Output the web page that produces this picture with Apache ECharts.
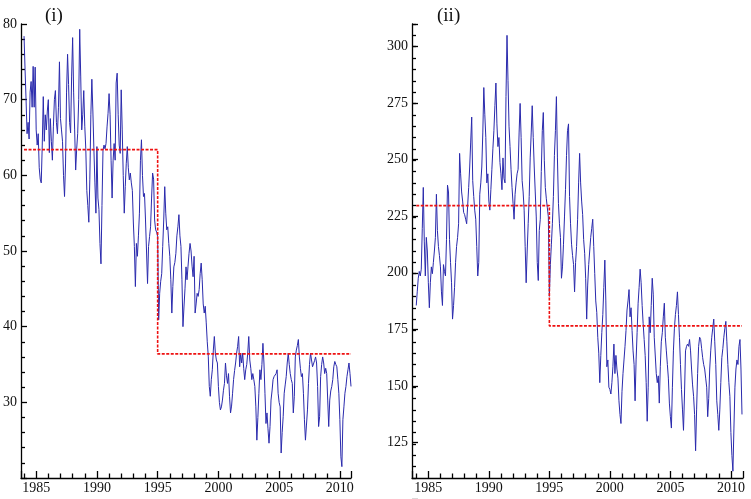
<!DOCTYPE html>
<html><head><meta charset="utf-8">
<script src="https://cdn.jsdelivr.net/npm/echarts@6/dist/echarts.min.js"></script>
<style>html,body{margin:0;padding:0;background:#fff}#c{width:751px;height:499px}</style>
</head><body><div id="c"></div>
<script>
// Monthly series, Jan 1984 - Dec 2010
const startYear = 1984;
const seriesI = [
78.4,74,70,65.5,67,64.8,71,72.4,69,74.4,
69,74.3,66,64,65.5,61,59.5,59,64,70.4,
64.5,68,66,68.5,70,63,67.5,64.5,62,66.5,
70,71.2,67,65.5,69,75,67.5,66,64.5,60,
57.2,61.5,71,76,72,67,65.6,73,78.2,71,
66,60.7,63.5,65.5,70,79.3,73,66,68,71.2,
66.5,63.5,58,56,53.8,59.5,68,72.7,68.5,63.5,
59,55,63.8,57,55.5,51,48.3,56,63.3,64,
63.5,64.2,66.4,68.2,70.8,68,62,57,62,64.2,
62,72.2,73.5,68,64,62.9,71.3,66,60,55,
58.5,61.6,63.8,61,59.4,60.3,59,58,53.7,
50.6,45.3,51,49.3,52,55,62,64.7,60,57.2,
57.6,54.1,50,45.7,50.6,51.9,53.2,57,60.3,59.5,
54.1,52.8,52.5,51.9,40.9,44.4,46,47,50.6,54.1,
58.5,55,52.8,53.2,51,49.3,46.2,41.8,45.3,47.9,
48.5,49.7,52,53.2,54.8,52,50.6,46.2,40,42.6,
45,47.9,46.2,48,49.7,51,50,48,46.6,49.3,
41.8,43,44.4,44,44.9,47,48.4,46.2,43,41.8,
42.7,40.5,38,36.1,32.1,30.8,33,34.3,36.9,38.7,
36.5,35.6,35.2,32.1,30,29,29.4,30.3,31.6,32.5,
35.2,33.5,32.5,33.8,30.8,28.6,29.5,31.2,33,
34.2,35.2,36.5,37.4,38.7,34.7,36.5,35.2,36.5,34.5,
33,34.3,35,36.5,38.7,35.6,34.5,33,33.8,33,
32.1,29.4,25,28,31.2,34.3,33,35,37.8,35.2,
31.2,27.2,28.6,26.5,24.6,26.8,30.3,31.5,33,33.4,
33.6,33.8,34.3,31.2,30,29.4,23.3,26,28.1,31.2,
32.3,33.4,35.2,36.5,35,33.8,33,32.5,28.6,30.8,
36,36.9,37.5,38.3,36,34.5,33.4,33.8,31.2,27.7,
25,27,29,32.5,35,36.5,35.6,34.7,34.7,35.5,
36,35.2,32.1,26.8,28.1,33.4,35,36,35.2,33.8,
34.5,33.8,30.3,26.8,30.3,31.5,32.1,33,34.7,
35.4,35,34.7,33,31.2,27.7,22.8,21.5,27.7,29.4,
31.2,32.1,33.4,34.3,35.2,33.8,32.1
];
const seriesII = [
186,192,198,201,199,202,220,238,214,199,
216,210,196,185,196,203,200,205,210,216,
235,219,212,208,203,192,186,204,201,199,
215,239,236,215,205,196,180,186,194,205,
212,216,222,253,244,236,232,227,226,224,
222,230,238,247,258,269,241,234,228,224,
212,199,205,235,240,247,262,282,270,260,
240,244,232,228,237,246,255,263,274,284,
266,256,260,249,244,237,251,242,240,278,
305,285,265,256,246,238,231,224,235,240,
244,246,262,275,260,241,236,228,212,196,
210,222,234,251,262,274,260,247,236,225,
205,197,219,224,245,263,271,250,238,233,
229,225,190,204,213,222,234,252,263,278,
251,231,222,216,198,203,213,225,237,252,
263,266,234,222,213,208,204,192,205,212,
224,240,253,240,232,226,215,209,198,180,
195,204,210,216,220,224,212,200,188,183,
172,165,152,164,174,182,194,206,188,159,
162,150,149,147,152,159,169,156,164,158,
154,144,138,134,148,156,162,168,175,184,
188,193,181,185,175,166,160,144,162,174,
187,194,202,196,186,178,171,164,152,135,
150,181,174,186,198,191,172,172,156,152,
155,143,159,170,174,181,187,172,166,160,
154,143,137,132,150,166,176,182,186,192,
182,172,160,149,140,131,147,166,168,169,
168,171,166,158,151,146,138,122,140,156,
168,172,171,167,163,160,158,154,150,137,
145,158,166,172,176,180,170,160,144,138,
131,140,152,163,167,172,176,179,170,160,
152,146,130,120,113,132,150,158,162,160,
168,171,158,138
];
// Step (break) means
const breakYear = 1995;
const endYear = 2010 + 11/12;
const meansI = [63.4, 36.4];
const meansII = [230, 177];
// Tick labels
const xTicks = [1985, 1990, 1995, 2000, 2005, 2010];
const yTicksI = [30, 40, 50, 60, 70, 80];
const yTicksII = [125, 150, 175, 200, 225, 250, 275, 300];
const panelLabels = ['(i)', '(ii)'];

const toPairs = arr => arr.map((v, i) => [startYear + i / 12, v]);
const stepPairs = m => [[startYear, m[0]], [breakYear, m[0]], [breakYear, m[1]], [endYear, m[1]]];

const FONT = 'Liberation Serif';
const lbl = {fontFamily: FONT, fontSize: 14, color: '#111', formatter: v => String(v)};
const tickStyle = () => ({color: '#000', width: 1.3});
const axLine = () => ({show: true, onZero: false, lineStyle: {color: '#000', width: 1.3}});

function mainX(grid, min, max) {
  return {
    type: 'value', gridIndex: grid, min: min, max: max,
    splitLine: {show: false},
    axisLine: axLine(),
    axisTick: {show: true, inside: true, length: 7, lineStyle: tickStyle()},
    minorTick: {show: true, splitNumber: 5, length: 4.5, lineStyle: tickStyle()},
    axisLabel: Object.assign({margin: 3, customValues: xTicks}, lbl)
  };
}

// Panel (ii) value axis helpers:
//  grid 2: extended 10 units below so its min (100) is a multiple of 25 -> major ticks + labels
//  grid 3: same as grid 1, min 110 is a multiple of 5 -> minor ticks
const GH = 454, GH2 = 454 * 210 / 200;

const chart = echarts.init(document.getElementById('c'), null, {renderer: 'canvas'});
chart.setOption({
  animation: false,
  backgroundColor: '#fff',
  title: [
    {text: panelLabels[0], left: 40, top: 2, textStyle: {fontFamily: FONT, fontSize: 19, fontWeight: 'normal', color: '#111'}},
    {text: panelLabels[1], left: 432, top: 2, textStyle: {fontFamily: FONT, fontSize: 19, fontWeight: 'normal', color: '#111'}}
  ],
  grid: [
    {left: 21, top: 24, width: 330, height: GH},
    {left: 412, top: 24, width: 331, height: GH},
    {left: 412, top: 24, width: 331, height: GH2},
    {left: 412, top: 24, width: 331, height: GH}
  ],
  xAxis: [
    mainX(0, 1983.75, endYear),
    mainX(1, 1983.65, 2011.0),
    {type: 'value', gridIndex: 2, min: 1983.65, max: 2011.0, show: false},
    {type: 'value', gridIndex: 3, min: 1983.65, max: 2011.0, show: false}
  ],
  yAxis: [
    {type: 'value', gridIndex: 0, min: 20, max: 80, interval: 10,
      splitLine: {show: false},
      axisLine: axLine(),
      axisTick: {show: true, inside: true, length: 6, lineStyle: tickStyle()},
      minorTick: {show: true, splitNumber: 5, length: 4, lineStyle: tickStyle()},
      axisLabel: Object.assign({margin: 4, customValues: yTicksI}, lbl)},
    {type: 'value', gridIndex: 1, min: 110, max: 310,
      splitLine: {show: false},
      axisLine: axLine(),
      axisTick: {show: false}, axisLabel: {show: false}},
    {type: 'value', gridIndex: 2, min: 100, max: 310, interval: 25,
      splitLine: {show: false},
      axisLine: {show: false},
      axisTick: {show: true, inside: true, length: 6, lineStyle: tickStyle()},
      minorTick: {show: false},
      axisLabel: Object.assign({margin: 4, customValues: yTicksII}, lbl)},
    {type: 'value', gridIndex: 3, min: 110, max: 310, interval: 5,
      splitLine: {show: false},
      axisLine: {show: false},
      axisTick: {show: true, inside: true, length: 4, lineStyle: tickStyle()},
      axisLabel: {show: false}}
  ],
  series: [
    {type: 'line', xAxisIndex: 0, yAxisIndex: 0, data: toPairs(seriesI), showSymbol: false,
      lineStyle: {color: '#2a2aad', width: 1}},
    {type: 'line', xAxisIndex: 0, yAxisIndex: 0, data: stepPairs(meansI), showSymbol: false,
      lineStyle: {color: '#ee1111', width: 1.6, type: [3, 1.5]}},
    {type: 'line', xAxisIndex: 1, yAxisIndex: 1, data: toPairs(seriesII), showSymbol: false,
      lineStyle: {color: '#2a2aad', width: 1}},
    {type: 'line', xAxisIndex: 1, yAxisIndex: 1, data: stepPairs(meansII), showSymbol: false,
      lineStyle: {color: '#ee1111', width: 1.6, type: [3, 1.5]}}
  ]
});
</script>
</body></html>
